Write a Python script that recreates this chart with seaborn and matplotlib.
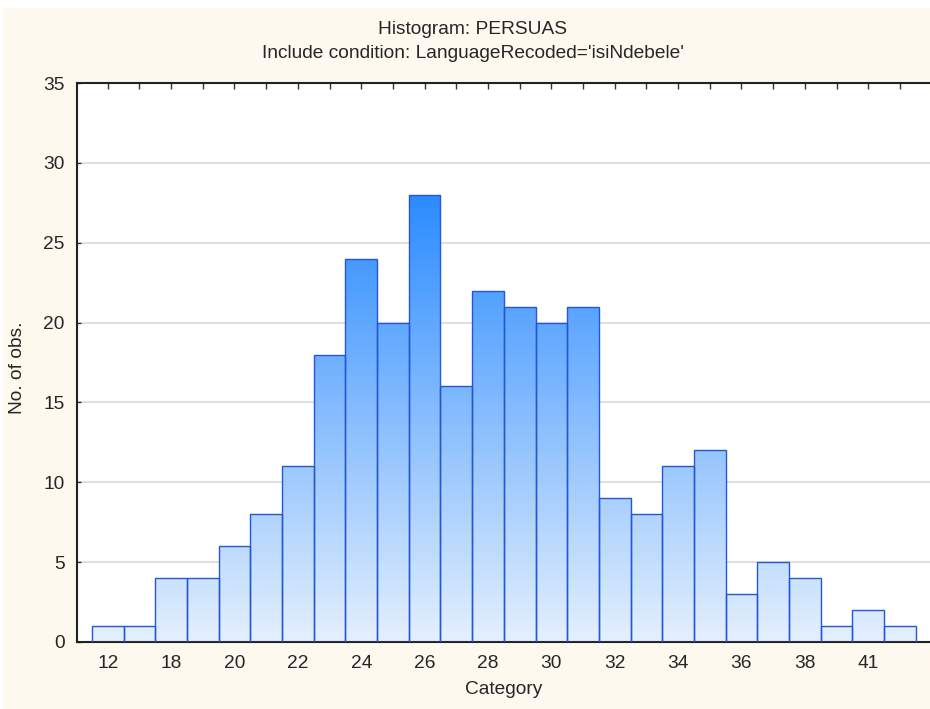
import numpy as np
import pandas as pd
import matplotlib
matplotlib.use("Agg")
import matplotlib.pyplot as plt
from matplotlib.colors import LinearSegmentedColormap
from matplotlib.patches import Rectangle
import seaborn as sns

categories = ["12", "17", "18", "19", "20", "21", "22", "23", "24", "25", "26", "27", "28",
              "29", "30", "31", "32", "33", "34", "35", "36", "37", "38", "40", "41", "43"]
counts = [1, 1, 4, 4, 6, 8, 11, 18, 24, 20, 28, 16, 22, 21, 20, 21, 9, 8, 11, 12, 3, 5, 4, 1, 2, 1]
# only every other category gets a label on the axis
tick_labels = [c if i % 2 == 0 else "" for i, c in enumerate(categories)]

df = pd.DataFrame({"Category": categories, "count": counts})

sns.set_style("white")
plt.rcParams["font.family"] = ["Liberation Sans", "DejaVu Sans"]
fsize = 13.8

fig = plt.figure(figsize=(9.3, 7.09), dpi=100)
fig.patch.set_facecolor("#fdf9ef")
# thin white margin at the top and left
fig.patches.append(Rectangle((0, 1 - 8 / 709), 1, 8 / 709, transform=fig.transFigure,
                             facecolor="white", edgecolor="none", zorder=-10))
fig.patches.append(Rectangle((0, 0), 3 / 930, 1, transform=fig.transFigure,
                             facecolor="white", edgecolor="none", zorder=-10))
ax = fig.add_axes([77 / 930, 1 - 642 / 709, 1 - 77 / 930, (642 - 83) / 709])
ax.set_facecolor("white")

sns.barplot(data=df, x="Category", y="count", order=categories, width=1.0,
            color="#5aa8fa", edgecolor="#2456d6", linewidth=1.0, ax=ax, zorder=3)

xlim = (-0.97, 25.95)
ylim = (0, 35)

# gradient fill tied to the value axis
cmap = LinearSegmentedColormap.from_list("grad", ["#e4f0fd", "#2b8bff"])
grad = np.linspace(0, 1, 256).reshape(-1, 1)
for p in ax.patches:
    p.set_facecolor("none")
    im = ax.imshow(grad, cmap=cmap, aspect="auto", origin="lower",
                   extent=(xlim[0], xlim[1], 0, max(counts)), zorder=2)
    im.set_clip_path(p)

ax.set_xlim(*xlim)
ax.set_ylim(*ylim)

ax.set_yticks(np.arange(0, 36, 5))
ax.yaxis.grid(True, color="#dcdcdc", linewidth=1.3, zorder=0)
ax.set_axisbelow(True)
ax.set_xticks(range(len(categories)))
ax.set_xticklabels(tick_labels)

ax.tick_params(axis="x", direction="in", length=4, width=1, color="#333333",
               top=True, bottom=True, labelsize=fsize, pad=9)
ax.tick_params(axis="y", direction="in", length=3, width=1, color="#333333",
               left=True, labelsize=fsize, pad=9)

for s in ["left", "bottom", "top"]:
    ax.spines[s].set_visible(True)
    ax.spines[s].set_color("#222222")
    ax.spines[s].set_linewidth(1.5)
ax.spines["right"].set_visible(False)

ax.set_xlabel("")
ax.set_ylabel("")
fig.text(504 / 930, 1 - 690 / 709, "Category", ha="center", va="center", fontsize=fsize)
fig.text(18 / 930, 1 - 368 / 709, "No. of obs.", ha="center", va="center",
         rotation=90, fontsize=fsize)
fig.text(473 / 930, 1 - 30 / 709, "Histogram: PERSUAS", ha="center", va="center", fontsize=fsize)
fig.text(473 / 930, 1 - 53 / 709, "Include condition: LanguageRecoded='isiNdebele'",
         ha="center", va="center", fontsize=fsize)

fig.savefig("out.png", dpi=100, facecolor=fig.get_facecolor())
